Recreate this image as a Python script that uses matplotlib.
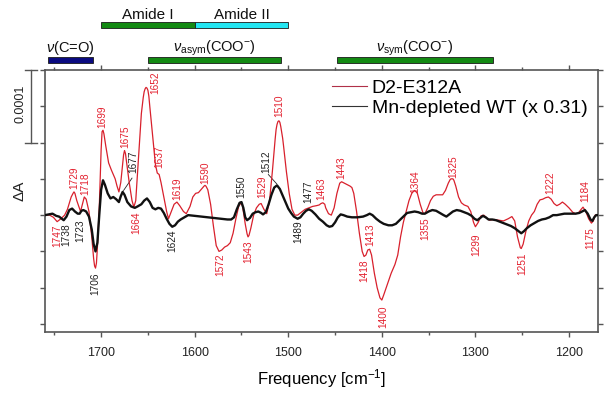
import matplotlib
matplotlib.use('Agg')
import matplotlib.pyplot as plt
import matplotlib.transforms as mtransforms
from matplotlib.patches import Rectangle
from matplotlib.lines import Line2D
from matplotlib.ticker import MultipleLocator

plt.rcParams['font.family'] = ['Liberation Sans', 'DejaVu Sans']
plt.rcParams['mathtext.fontset'] = 'custom'
plt.rcParams['mathtext.rm'] = 'Liberation Sans'
plt.rcParams['mathtext.it'] = 'Liberation Sans:italic'
plt.rcParams['mathtext.bf'] = 'Liberation Sans:bold'

# D2-E312A spectrum (dA in units of 1e-4)
freq_mut = [1760, 1755, 1751, 1747, 1743, 1739, 1736, 1732, 1730, 1729, 1728, 1726, 1722, 1720, 1718,
            1716, 1713, 1710, 1708, 1707, 1706, 1705, 1704, 1702, 1700, 1699, 1698, 1697, 1695, 1692,
            1689, 1687, 1685, 1683, 1681, 1679, 1677, 1676, 1675, 1674, 1673, 1670, 1667, 1665, 1663,
            1660, 1657, 1655, 1654, 1653, 1652, 1651, 1650, 1649, 1648, 1645,
            1642, 1640, 1638, 1636, 1633, 1630, 1628, 1625, 1622, 1619, 1616, 1612, 1609, 1605, 1602,
            1599, 1596, 1592, 1590, 1589, 1588, 1586, 1583, 1580, 1577, 1574, 1571, 1568, 1565, 1562, 1559, 1556,
            1553, 1551, 1550, 1549, 1548, 1546, 1544, 1543, 1542, 1540, 1537, 1534, 1531, 1529, 1526, 1523, 1520, 1517, 1514,
            1513, 1512, 1511, 1510, 1509, 1508, 1506, 1505, 1502, 1499, 1496, 1493, 1490, 1486, 1482, 1478, 1474, 1470, 1467,
            1465, 1463, 1461, 1460, 1457, 1454, 1451, 1448, 1445, 1443, 1440, 1437, 1434, 1432, 1430, 1427, 1424,
            1421, 1419, 1417, 1415, 1413, 1411, 1408, 1405, 1402, 1400, 1398, 1394, 1390, 1386, 1383,
            1380, 1377, 1374, 1371, 1368, 1366, 1365, 1364, 1362, 1359, 1356, 1354, 1351, 1348, 1345, 1342, 1338,
            1335, 1332, 1329, 1327, 1326, 1324, 1323, 1321, 1318, 1315, 1312, 1308, 1305, 1302, 1300, 1297, 1294,
            1291, 1288, 1285, 1280, 1275, 1270, 1265, 1261, 1258, 1255, 1252, 1251, 1249, 1246, 1243,
            1240, 1237, 1234, 1231, 1228, 1225, 1222, 1219, 1216, 1213, 1210, 1207, 1204, 1200, 1196,
            1193, 1190, 1187, 1185, 1182, 1179, 1176, 1174, 1172, 1169]
dA_mut = [0.00, 0.00, -0.03, -0.09, -0.05, 0.00, 0.08, 0.25, 0.30, 0.32, 0.30, 0.20, 0.05, 0.15, 0.25,
          0.22, 0.05, -0.30, -0.60, -0.70, -0.73, -0.66, -0.45, 0.10, 0.90, 1.15, 1.17, 1.12, 0.95, 0.72,
          0.62, 0.56, 0.50, 0.40, 0.32, 0.45, 0.70, 0.83, 0.89, 0.85, 0.75, 0.45, 0.20, 0.11, 0.20,
          0.80, 1.40, 1.62, 1.70, 1.74, 1.76, 1.75, 1.72, 1.64, 1.50, 1.10,
          0.70, 0.58, 0.56, 0.45, 0.25, 0.05, -0.05, 0.05, 0.15, 0.18, 0.13, 0.05, 0.02, 0.12, 0.25,
          0.30, 0.31, 0.37, 0.40, 0.41, 0.40, 0.35, 0.15, -0.15, -0.42, -0.50, -0.48, -0.44, -0.42, -0.38, -0.25, -0.05,
          0.12, 0.16, 0.16, 0.13, 0.05, -0.12, -0.26, -0.30, -0.28, -0.18, 0.00, 0.10, 0.15, 0.16, 0.08, 0.02, 0.20, 0.60, 1.05,
          1.18, 1.25, 1.29, 1.30, 1.28, 1.22, 1.06, 0.95, 0.60, 0.30, 0.08, 0.00, 0.00, 0.04, 0.08, 0.10, 0.12, 0.13, 0.14,
          0.16, 0.17, 0.15, 0.10, 0.02, 0.00, 0.10, 0.30, 0.44, 0.46, 0.44, 0.42, 0.40, 0.38, 0.30, 0.05, -0.25,
          -0.50, -0.57, -0.55, -0.48, -0.47, -0.55, -0.80, -1.00, -1.14, -1.17, -1.10, -0.95, -0.80, -0.68, -0.55,
          -0.30, -0.10, 0.05, 0.20, 0.30, 0.33, 0.34, 0.33, 0.30, 0.15, 0.03, 0.02, 0.10, 0.20, 0.26, 0.28, 0.28,
          0.28, 0.34, 0.44, 0.49, 0.50, 0.50, 0.48, 0.40, 0.25, 0.17, 0.14, 0.12, 0.05, -0.10, -0.16, -0.10, -0.01,
          0.00, -0.04, -0.07, -0.06, -0.07, -0.08, -0.05, -0.02, -0.08, -0.30, -0.45, -0.46, -0.40, -0.22, -0.08,
          0.00, 0.05, 0.15, 0.21, 0.22, 0.24, 0.25, 0.22, 0.16, 0.13, 0.15, 0.18, 0.15, 0.10, 0.04,
          0.02, 0.03, 0.08, 0.11, 0.05, -0.05, -0.11, -0.08, 0.00, 0.00]

# Mn-depleted WT (x 0.31)
freq_wt = [1760, 1756, 1752, 1748, 1745, 1742, 1740, 1737, 1734, 1731, 1728, 1725, 1723, 1721, 1719,
           1716, 1713, 1710, 1708, 1706, 1704, 1702, 1700, 1698, 1696, 1693, 1690, 1687, 1684, 1681,
           1679, 1677, 1675, 1672, 1668, 1664, 1661, 1657, 1654, 1651, 1648, 1645, 1642, 1639, 1636,
           1633, 1630, 1627, 1624, 1621, 1618, 1615, 1611, 1607, 1600, 1592, 1585, 1578, 1571, 1565,
           1561, 1558, 1555, 1552, 1550, 1548, 1546, 1544, 1541, 1538, 1535, 1532, 1529, 1527, 1524,
           1521, 1518, 1515, 1512, 1509, 1506, 1503, 1500, 1497, 1494, 1490, 1487, 1484, 1481, 1478,
           1475, 1471, 1467, 1463, 1459, 1456, 1453, 1450, 1447, 1444, 1441, 1437, 1432, 1426, 1420,
           1416, 1413, 1410, 1406, 1402, 1398, 1393, 1389, 1385, 1381, 1377, 1373, 1369, 1365, 1361,
           1357, 1354, 1350, 1346, 1342, 1338, 1334, 1331, 1328, 1324, 1320, 1316, 1312, 1308, 1304,
           1301, 1298, 1295, 1292, 1289, 1286, 1282, 1278, 1274, 1270, 1266, 1262, 1258, 1254, 1251,
           1248, 1245, 1241, 1237, 1233, 1229, 1225, 1221, 1217, 1213, 1209, 1205, 1201, 1197, 1193,
           1189, 1186, 1183, 1180, 1177, 1175, 1173, 1171, 1169]
dA_wt = [0.00, 0.01, 0.02, -0.01, -0.02, -0.05, -0.07, -0.02, 0.07, 0.09, 0.05, 0.02, 0.02, 0.06, 0.07,
         0.05, -0.02, -0.20, -0.40, -0.50, -0.38, 0.00, 0.35, 0.48, 0.42, 0.30, 0.23, 0.25, 0.22, 0.18,
         0.26, 0.32, 0.28, 0.18, 0.12, 0.10, 0.12, 0.15, 0.20, 0.23, 0.18, 0.10, 0.08, 0.10, 0.09,
         0.03, -0.05, -0.12, -0.16, -0.14, -0.09, -0.06, -0.03, 0.00, -0.01, -0.02, -0.03, -0.04, -0.05, -0.06,
         -0.06, -0.03, 0.08, 0.17, 0.18, 0.10, -0.03, -0.07, -0.04, 0.02, 0.04, 0.05, 0.03, 0.01, 0.04,
         0.15, 0.28, 0.38, 0.41, 0.36, 0.27, 0.18, 0.09, 0.03, -0.02, -0.05, -0.03, 0.02, 0.06, 0.08,
         0.06, 0.01, -0.05, -0.09, -0.14, -0.16, -0.15, -0.10, -0.03, 0.01, 0.00, -0.02, -0.03, -0.03, -0.02,
         0.00, 0.02, 0.00, -0.05, -0.09, -0.12, -0.14, -0.14, -0.12, -0.07, -0.02, 0.03, 0.04, 0.05, 0.04,
         0.02, 0.02, 0.05, 0.07, 0.06, 0.03, 0.00, -0.02, 0.01, 0.05, 0.07, 0.06, 0.04, 0.02, -0.01,
         -0.05, -0.07, -0.04, -0.01, -0.03, -0.06, -0.06, -0.07, -0.09, -0.11, -0.13, -0.15, -0.18, -0.22, -0.25,
         -0.22, -0.18, -0.14, -0.11, -0.08, -0.06, -0.05, -0.03, 0.00, 0.00, 0.01, 0.02, 0.02, 0.02, 0.02,
         0.03, 0.05, 0.07, 0.02, -0.06, -0.08, -0.03, 0.00, 0.00]

# peak labels: text, position (cm-1, dA), series
peak_text = ['1747', '1729', '1718', '1699', '1675', '1664', '1652', '1637', '1619', '1590',
             '1572', '1543', '1529', '1510', '1463', '1443', '1418', '1413', '1400', '1364',
             '1355', '1325', '1299', '1251', '1222', '1184', '1175',
             '1738', '1723', '1706', '1677', '1624', '1550', '1512', '1489', '1477']
peak_x = [1747.3, 1728.8, 1717.1, 1699.3, 1674.4, 1662.6, 1642.3, 1637.7, 1619.1, 1588.9,
          1572.9, 1542.6, 1527.7, 1509.8, 1464.2, 1443.6, 1418.7, 1412.6, 1399.0, 1364.5,
          1353.8, 1323.6, 1298.6, 1249.9, 1220.3, 1183.1, 1177.6,
          1737.4, 1722.4, 1706.4, 1665.8, 1624.5, 1549.7, 1523.0, 1489.2, 1478.5]
peak_y = [-0.29, 0.52, 0.43, 1.35, 1.08, -0.11, 1.83, 0.80, 0.36, 0.59,
          -0.69, -0.50, 0.39, 1.51, 0.37, 0.66, -0.76, -0.27, -1.40, 0.46,
          -0.18, 0.67, -0.41, -0.67, 0.44, 0.33, -0.32,
          -0.27, -0.22, -0.95, 0.73, -0.35, 0.39, 0.73, -0.23, 0.32]
peak_series = ['mut'] * 27 + ['wt'] * 9

# assignment bars above the plot
band_names = ['Amide I', 'Amide II', r'$\nu$(C=O)', r'$\nu_{\mathrm{asym}}$(COO$^{-}$)',
              r'$\nu_{\mathrm{sym}}$(COO$^{-}$)']
band_start = [1700, 1600, 1757, 1650, 1448]
band_end = [1600, 1500, 1709, 1508, 1281]
band_row = [1, 1, 0, 0, 0]
band_color = ['#138a13', '#22e6f2', '#0a0a80', '#138a13', '#138a13']

red = '#d8202c'
lab_red = '#e32230'

fig = plt.figure(figsize=(6.12, 3.99), dpi=100)
ax = fig.add_axes([0.0735, 0.168, 0.9036, 0.6566])

ax.plot(freq_mut, dA_mut, color=red, lw=0.9, zorder=3)
ax.plot(freq_wt, dA_wt, color='#111111', lw=1.7, zorder=4)

ax.set_xlim(1760, 1169)
ax.set_ylim(-1.61, 2.0)
ax.xaxis.set_major_locator(MultipleLocator(100))
ax.xaxis.set_minor_locator(MultipleLocator(50))
ax.yaxis.set_major_locator(MultipleLocator(0.5))
ax.tick_params(which='both', direction='out', top=True, right=True, labelleft=False,
               color='#555555', width=1.0)
ax.tick_params(which='major', length=3.5, pad=7, labelsize=9, labelcolor='#222222')
ax.tick_params(which='minor', length=2)
for s in ax.spines.values():
    s.set_color('#555555')
    s.set_linewidth(1.2)

ax.set_xlabel('Frequency [cm$^{-1}$]', fontsize=12, labelpad=6)

for t, x, y, s in zip(peak_text, peak_x, peak_y, peak_series):
    ax.text(x, y, t, rotation=90, ha='center', va='center', fontsize=7.3,
            color=lab_red if s == 'mut' else '#222222', zorder=5)

# leader lines for two black labels
ax.plot([1676.0, 1667.0], [0.34, 0.51], color='#222222', lw=0.6)
ax.plot([1521.3, 1512.3], [0.56, 0.43], color='#222222', lw=0.6)

# bars
trans = mtransforms.blended_transform_factory(ax.transData, ax.transAxes)
row_y = [1.038, 1.173]
text_y = [1.069, 1.195]
text_size = [10.5, 11]
for name, a, b, r, c in zip(band_names, band_start, band_end, band_row, band_color):
    ax.add_patch(Rectangle((b, row_y[r] - 0.011), a - b, 0.022, transform=trans,
                           facecolor=c, edgecolor='#1a1a1a', lw=0.6, clip_on=False))
    ax.text((a + b) / 2, text_y[r], name, transform=trans, ha='center', va='baseline',
            fontsize=text_size[r], color='#111111')

# scale bar
tb = mtransforms.blended_transform_factory(ax.transAxes, ax.transData)
ax.plot([-0.0253, -0.0253], [1.0, 2.0], transform=tb, color='#555555', lw=1.0, clip_on=False)
ax.plot([-0.036, -0.0145], [1.0, 1.0], transform=tb, color='#555555', lw=1.0, clip_on=False)
ax.plot([-0.036, -0.0145], [2.0, 2.0], transform=tb, color='#555555', lw=1.0, clip_on=False)
fig.text(20.7 / 612, 1 - 104 / 399, '0.0001', rotation=90, ha='center', va='center', fontsize=9,
         color='#222222')
fig.text(20 / 612, 1 - 191 / 399, '\u0394A', rotation=90, ha='center', va='center', fontsize=11,
         color='#222222')

handles = [Line2D([], [], color='#b03048', lw=0.8), Line2D([], [], color='#333333', lw=0.8)]
ax.legend(handles, ['D2-E312A', 'Mn-depleted WT (x 0.31)'], loc='upper left',
          bbox_to_anchor=(332 / 612, 1 - 79 / 399), bbox_transform=fig.transFigure,
          frameon=False, fontsize=14, borderpad=0, borderaxespad=0, handlelength=1.8,
          handletextpad=0.25, labelspacing=0.15)

fig.savefig('out.png', dpi=100)
